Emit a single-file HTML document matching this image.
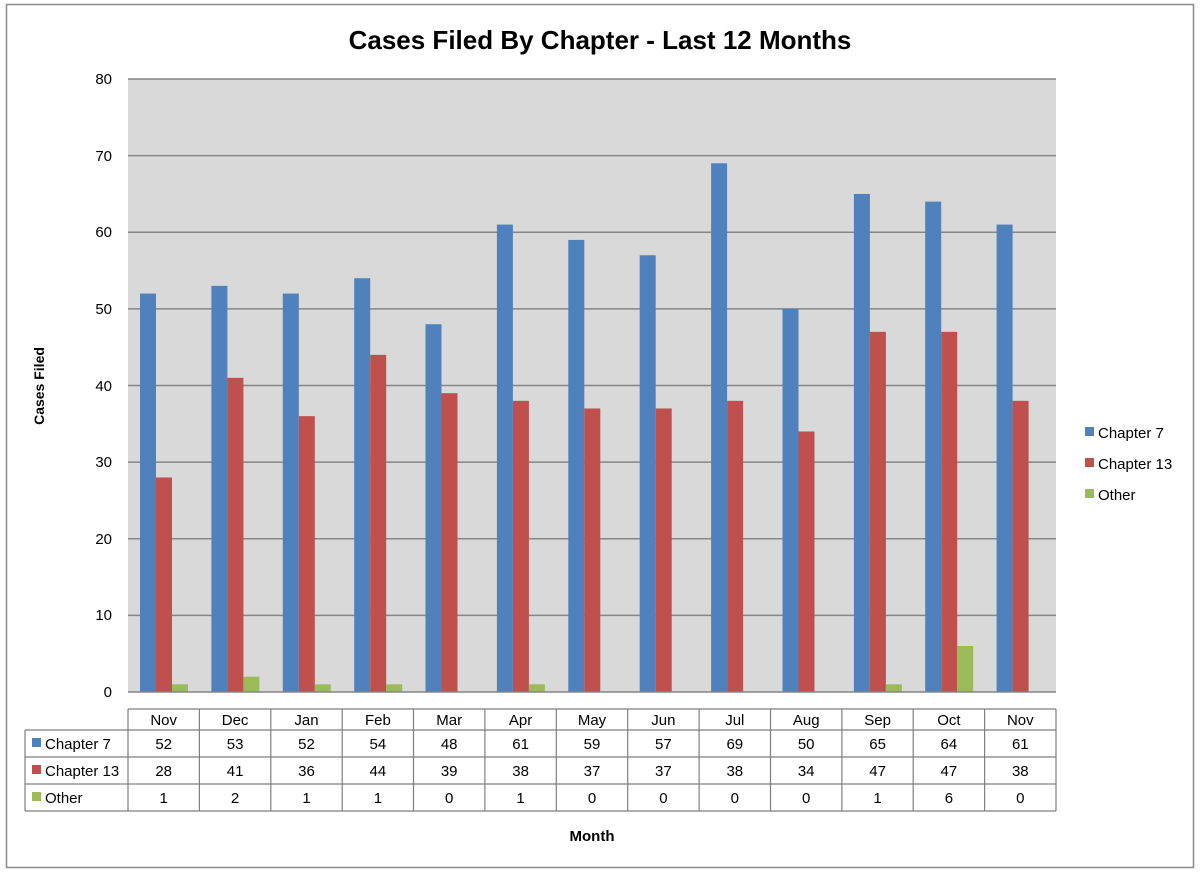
<!DOCTYPE html>
<html><head><meta charset="utf-8"><style>body{margin:0;background:#fff}svg{display:block;font-family:"Liberation Sans",sans-serif}</style></head>
<body>
<svg width="1200" height="873" xmlns="http://www.w3.org/2000/svg">
<rect x="6.5" y="4.5" width="1187" height="863" fill="#fff" stroke="#8c8c8c" stroke-width="1.5"/>
<text x="600" y="49" text-anchor="middle" font-size="26" font-weight="bold">Cases Filed By Chapter - Last 12 Months</text>
<rect x="128" y="79" width="928" height="613" fill="#d9d9d9"/>
<g stroke="#868686" stroke-width="1.5">
<line x1="128" x2="1056" y1="79" y2="79"/><line x1="128" x2="1056" y1="155.6" y2="155.6"/><line x1="128" x2="1056" y1="232.25" y2="232.25"/><line x1="128" x2="1056" y1="308.9" y2="308.9"/><line x1="128" x2="1056" y1="385.5" y2="385.5"/><line x1="128" x2="1056" y1="462.1" y2="462.1"/><line x1="128" x2="1056" y1="538.75" y2="538.75"/><line x1="128" x2="1056" y1="615.4" y2="615.4"/>
</g>
<g font-size="15" text-anchor="end">
<text x="112" y="84">80</text><text x="112" y="161">70</text><text x="112" y="237">60</text><text x="112" y="314">50</text><text x="112" y="391">40</text><text x="112" y="467">30</text><text x="112" y="544">20</text><text x="112" y="620">10</text><text x="112" y="697">0</text>
</g>
<g transform="translate(0,692) scale(1,-7.6625)">
<g fill="#4f81bd">
<rect x="140" y="0" width="16" height="52"/><rect x="211.4" y="0" width="16" height="53"/><rect x="282.8" y="0" width="16" height="52"/><rect x="354.2" y="0" width="16" height="54"/><rect x="425.5" y="0" width="16" height="48"/><rect x="496.9" y="0" width="16" height="61"/><rect x="568.3" y="0" width="16" height="59"/><rect x="639.7" y="0" width="16" height="57"/><rect x="711.1" y="0" width="16" height="69"/><rect x="782.5" y="0" width="16" height="50"/><rect x="853.9" y="0" width="16" height="65"/><rect x="925.2" y="0" width="16" height="64"/><rect x="996.6" y="0" width="16" height="61"/>
</g>
<g fill="#c0504d">
<rect x="156" y="0" width="16" height="28"/><rect x="227.4" y="0" width="16" height="41"/><rect x="298.8" y="0" width="16" height="36"/><rect x="370.2" y="0" width="16" height="44"/><rect x="441.5" y="0" width="16" height="39"/><rect x="512.9" y="0" width="16" height="38"/><rect x="584.3" y="0" width="16" height="37"/><rect x="655.7" y="0" width="16" height="37"/><rect x="727.1" y="0" width="16" height="38"/><rect x="798.5" y="0" width="16" height="34"/><rect x="869.9" y="0" width="16" height="47"/><rect x="941.2" y="0" width="16" height="47"/><rect x="1012.6" y="0" width="16" height="38"/>
</g>
<g fill="#9bbb59">
<rect x="172" y="0" width="16" height="1"/><rect x="243.4" y="0" width="16" height="2"/><rect x="314.8" y="0" width="16" height="1"/><rect x="386.2" y="0" width="16" height="1"/><rect x="528.9" y="0" width="16" height="1"/><rect x="885.9" y="0" width="16" height="1"/><rect x="957.2" y="0" width="16" height="6"/>
</g>
</g>
<line x1="128" x2="1056" y1="692" y2="692" stroke="#868686" stroke-width="1.5"/>
<g stroke="#7f7f7f" stroke-width="1.2" fill="none">
<line x1="128" x2="1056" y1="709" y2="709"/><line x1="25" x2="1056" y1="730" y2="730"/><line x1="25" x2="1056" y1="757" y2="757"/><line x1="25" x2="1056" y1="784" y2="784"/><line x1="25" x2="1056" y1="811" y2="811"/>
<line x1="25" x2="25" y1="730" y2="811"/>
<line x1="128" x2="128" y1="709" y2="811"/><line x1="199.4" x2="199.4" y1="709" y2="811"/><line x1="270.8" x2="270.8" y1="709" y2="811"/><line x1="342.2" x2="342.2" y1="709" y2="811"/><line x1="413.5" x2="413.5" y1="709" y2="811"/><line x1="484.9" x2="484.9" y1="709" y2="811"/><line x1="556.3" x2="556.3" y1="709" y2="811"/><line x1="627.7" x2="627.7" y1="709" y2="811"/><line x1="699.1" x2="699.1" y1="709" y2="811"/><line x1="770.5" x2="770.5" y1="709" y2="811"/><line x1="841.9" x2="841.9" y1="709" y2="811"/><line x1="913.2" x2="913.2" y1="709" y2="811"/><line x1="984.6" x2="984.6" y1="709" y2="811"/><line x1="1056" x2="1056" y1="709" y2="811"/>
</g>
<g font-size="15" text-anchor="middle">
<text x="163.7" y="725">Nov</text><text x="235.1" y="725">Dec</text><text x="306.5" y="725">Jan</text><text x="377.9" y="725">Feb</text><text x="449.2" y="725">Mar</text><text x="520.6" y="725">Apr</text><text x="592" y="725">May</text><text x="663.4" y="725">Jun</text><text x="734.8" y="725">Jul</text><text x="806.2" y="725">Aug</text><text x="877.6" y="725">Sep</text><text x="948.9" y="725">Oct</text><text x="1020.3" y="725">Nov</text>
<text x="163.7" y="749">52</text><text x="235.1" y="749">53</text><text x="306.5" y="749">52</text><text x="377.9" y="749">54</text><text x="449.2" y="749">48</text><text x="520.6" y="749">61</text><text x="592" y="749">59</text><text x="663.4" y="749">57</text><text x="734.8" y="749">69</text><text x="806.2" y="749">50</text><text x="877.6" y="749">65</text><text x="948.9" y="749">64</text><text x="1020.3" y="749">61</text>
<text x="163.7" y="776">28</text><text x="235.1" y="776">41</text><text x="306.5" y="776">36</text><text x="377.9" y="776">44</text><text x="449.2" y="776">39</text><text x="520.6" y="776">38</text><text x="592" y="776">37</text><text x="663.4" y="776">37</text><text x="734.8" y="776">38</text><text x="806.2" y="776">34</text><text x="877.6" y="776">47</text><text x="948.9" y="776">47</text><text x="1020.3" y="776">38</text>
<text x="163.7" y="803">1</text><text x="235.1" y="803">2</text><text x="306.5" y="803">1</text><text x="377.9" y="803">1</text><text x="449.2" y="803">0</text><text x="520.6" y="803">1</text><text x="592" y="803">0</text><text x="663.4" y="803">0</text><text x="734.8" y="803">0</text><text x="806.2" y="803">0</text><text x="877.6" y="803">1</text><text x="948.9" y="803">6</text><text x="1020.3" y="803">0</text>
</g>
<g font-size="15">
<rect x="32" y="738" width="9" height="9" fill="#4f81bd"/><text x="45" y="749">Chapter 7</text>
<rect x="32" y="765" width="9" height="9" fill="#c0504d"/><text x="45" y="776">Chapter 13</text>
<rect x="32" y="792" width="9" height="9" fill="#9bbb59"/><text x="45" y="803">Other</text>
<rect x="1085" y="427" width="9" height="9" fill="#4f81bd"/><text x="1098" y="438">Chapter 7</text>
<rect x="1085" y="458" width="9" height="9" fill="#c0504d"/><text x="1098" y="469">Chapter 13</text>
<rect x="1085" y="489" width="9" height="9" fill="#9bbb59"/><text x="1098" y="500">Other</text>
</g>
<text x="592" y="841" text-anchor="middle" font-size="15" font-weight="bold">Month</text>
<text transform="translate(44,386) rotate(-90)" text-anchor="middle" font-size="14" font-weight="bold">Cases Filed</text>
</svg>
</body></html>
